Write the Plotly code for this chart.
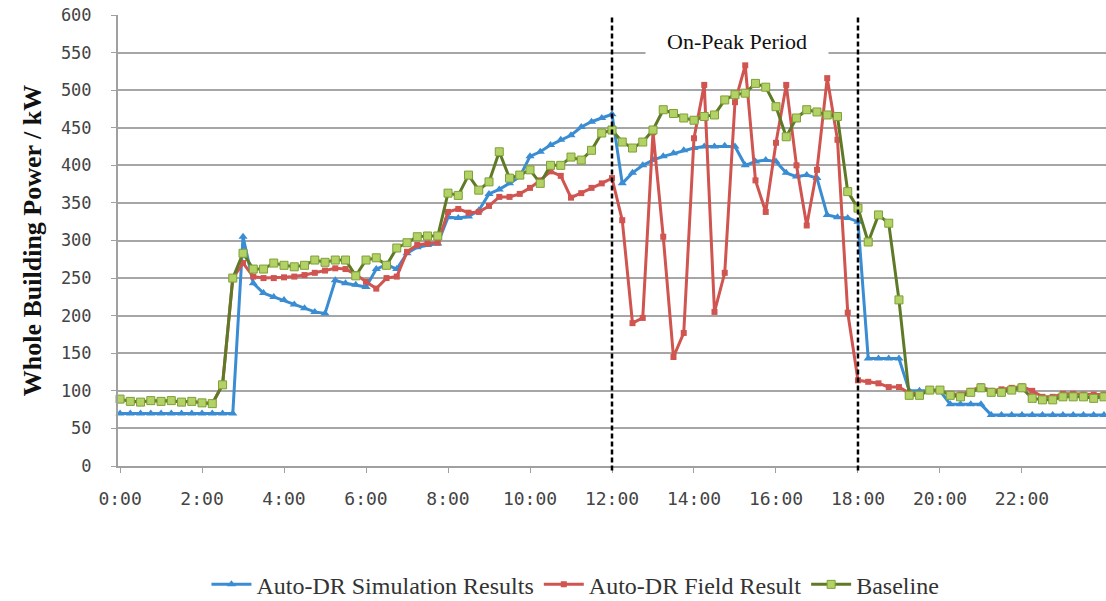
import plotly.graph_objects as go

# ---- data (15-minute intervals, 0:00 .. 24:00) ----
tick_vals = [0, 2, 4, 6, 8, 10, 12, 14, 16, 18, 20, 22]
tick_text = ["0:00", "2:00", "4:00", "6:00", "8:00", "10:00", "12:00",
             "14:00", "16:00", "18:00", "20:00", "22:00"]
y_ticks = [0, 50, 100, 150, 200, 250, 300, 350, 400, 450, 500, 550, 600]

simulation = [70, 70, 70, 70, 70, 70, 70, 70, 70, 70, 70, 70,
              305, 243, 230, 225, 221, 215, 210, 205, 203,
              247, 243, 241, 238, 262, 268, 262, 283, 291, 294,
              296, 331, 330, 332, 340, 362, 368, 376, 385, 412,
              418, 427, 434, 440, 451, 458, 463, 468, 376, 390,
              400, 407, 412, 416, 420, 423, 425, 425, 426, 425,
              400, 405, 407, 405, 390, 385, 387, 383, 334, 331,
              330, 325, 143, 143, 143, 143, 100, 100, 100, 100,
              82, 82, 82, 82,
              68, 68, 68, 68, 68, 68, 68, 68, 68, 68, 68, 68]

field = [89, 86, 85, 87, 86, 87, 85, 86, 84, 83, 108, 250,
         270, 252, 250, 250, 251, 252, 254, 257, 260,
         263, 262, 255, 245, 236, 250, 252, 285, 294, 296,
         297, 338, 342, 337, 338, 346, 358, 358, 362, 370,
         380, 392, 386, 357, 363, 370, 376, 383, 327, 190,
         197, 444, 305, 145, 177, 436, 507, 205, 257, 484,
         533, 380, 338, 430, 507, 400, 320, 394, 516, 434,
         204, 114, 112, 110, 105, 105,
         97, 96, 100, 100, 96, 95, 100, 106, 100, 102, 104, 106,
         100, 92, 92, 96, 96, 95, 95, 95]

baseline = [89, 86, 85, 87, 86, 87, 85, 86, 84, 83, 108,
            250, 283, 262, 262, 270, 267, 265, 267, 274, 271,
            274, 274, 253, 274, 277, 267, 290, 297, 305, 306,
            306, 363, 360, 387, 367, 378, 418, 383, 387, 394,
            376, 400, 400, 411, 407, 420, 443, 447, 431, 423,
            431, 447, 474, 469, 463, 460, 465, 467, 487, 494,
            496, 509, 504, 478, 438, 463, 474, 471, 467, 465,
            365, 343, 298, 334, 323, 221,
            94, 94, 101, 101, 94, 92, 98, 104, 98, 98, 101, 104,
            90, 88, 88, 92, 92, 92, 90, 92]

hours = [i / 4 for i in range(len(baseline))]

peak_start = 12
peak_end = 18

fig = go.Figure()

fig.add_trace(go.Scatter(
    x=hours, y=simulation, name="Auto-DR Simulation Results",
    mode="lines+markers", cliponaxis=False,
    line=dict(color="#3a8dd3", width=3),
    marker=dict(symbol="triangle-up", size=8, color="#3a8dd3")))

fig.add_trace(go.Scatter(
    x=hours, y=field, name="Auto-DR Field Result",
    mode="lines+markers", cliponaxis=False,
    line=dict(color="#d05450", width=3),
    marker=dict(symbol="square", size=6, color="#d05450")))

fig.add_trace(go.Scatter(
    x=hours, y=baseline, name="Baseline",
    mode="lines+markers", cliponaxis=False,
    line=dict(color="#5f7a26", width=3),
    marker=dict(symbol="square", size=8, color="#b3d265",
                line=dict(color="#7f9f38", width=1))))

for xv in (peak_start, peak_end):
    fig.add_shape(type="line", xref="x", yref="paper", x0=xv, x1=xv,
                  y0=-0.01, y1=1.0, layer="above",
                  line=dict(color="black", width=2.5, dash="5px,3px"))

fig.add_annotation(x=15.05, y=566, xref="x", yref="y", text="On-Peak Period",
                   showarrow=False, bgcolor="white", width=180, height=30,
                   font=dict(family="Liberation Serif", size=22, color="#111"))

fig.update_layout(
    width=1106, height=601,
    margin=dict(l=118, r=0, t=15, b=135, autoexpand=False),
    paper_bgcolor="white", plot_bgcolor="white",
    showlegend=True,
    legend=dict(orientation="h", x=0.463, xanchor="center",
                yref="container", y=0.027, yanchor="middle",
                font=dict(family="Liberation Serif", size=24, color="#333"),
                itemwidth=40, tracegroupgap=0),
    xaxis=dict(range=[-0.05, 24.05], tickvals=tick_vals, ticktext=tick_text,
               showgrid=False, zeroline=False, automargin=False,
               showline=True, linecolor="#a0a0a0", linewidth=2,
               ticks="outside", ticklen=5, tickcolor="#a0a0a0",
               ticklabelstandoff=10,
               tickfont=dict(family="DejaVu Sans Mono", size=18, color="#444")),
    yaxis=dict(range=[0, 600], tickvals=y_ticks, automargin=False,
               showgrid=True, gridcolor="#a6a6a6", gridwidth=2,
               zeroline=False,
               showline=True, linecolor="#a0a0a0", linewidth=2,
               ticks="outside", ticklen=5, tickcolor="#a0a0a0",
               ticklabelstandoff=16,
               tickfont=dict(family="DejaVu Sans Mono", size=17, color="#444"),
               title=dict(text="<b>Whole Building Power / kW</b>", standoff=12,
                          font=dict(family="Liberation Serif", size=26, color="#111"))),
)

fig.write_html("out.html",
               config={"displayModeBar": False},
               post_script="document.body.style.margin='0px';"
                           "document.body.style.overflow='hidden';")
